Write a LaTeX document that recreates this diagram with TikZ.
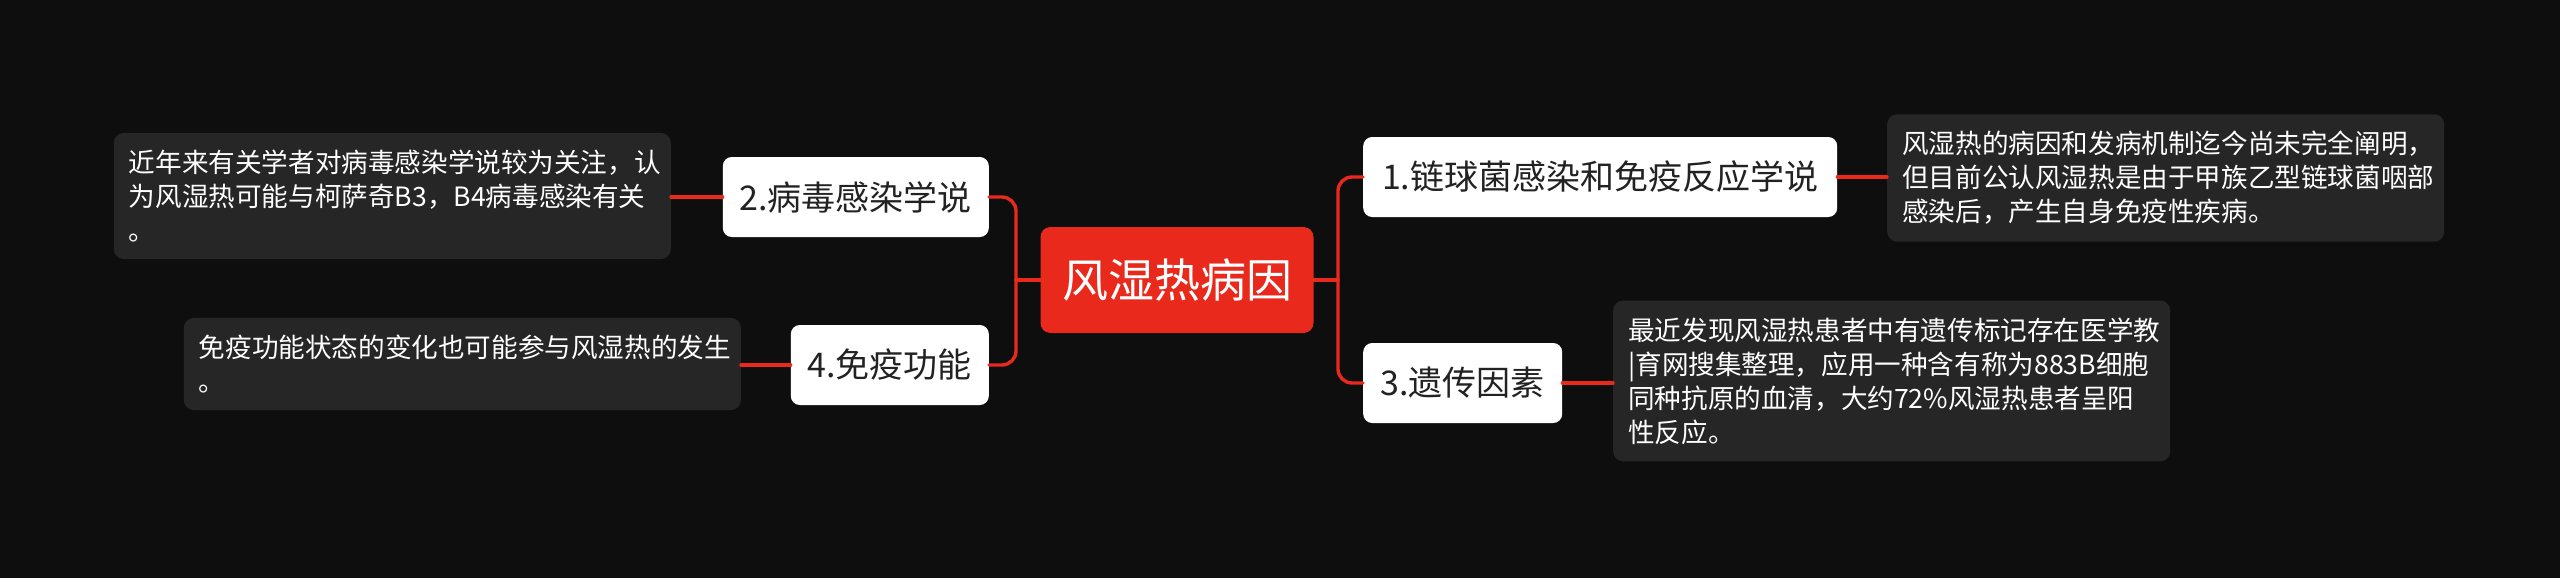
\documentclass[tikz,border=0pt]{standalone}
\usepackage{fontspec}
\setmainfont{Noto Sans CJK SC}
\usetikzlibrary{positioning,calc}
\definecolor{MapBack}{HTML}{0E0E0E}
\definecolor{MapRed}{HTML}{E8291C}
\definecolor{MapNote}{HTML}{262626}
\definecolor{MapInk}{HTML}{222222}

\tikzset{
  rootbox/.style={fill=MapRed, text=white, rounded corners=10pt,
    font=\fontsize{46}{52}\selectfont, minimum width=273pt,
    minimum height=106pt, inner sep=0pt},
  topicbox/.style={fill=white, text=MapInk, rounded corners=9pt,
    font=\fontsize{34}{40}\selectfont, minimum height=80pt, inner sep=0pt},
  notebox/.style={fill=MapNote, text=white, rounded corners=10pt,
    font=\fontsize{26.6}{34}\selectfont, align=left, text width=527pt,
    inner xsep=15pt, inner ysep=17pt},
  link/.style={draw=MapRed, line width=3.4pt, rounded corners=14pt, line cap=round},
}

\begin{document}
\begin{tikzpicture}[x=1pt,y=-1pt]
  \fill[MapBack] (0,0) rectangle (2560,578);
  \useasboundingbox (0,0) rectangle (2560,578);

  \node[rootbox] (root) at (1177,280) {风湿热病因};

  % right side
  \node[topicbox,minimum width=474pt,anchor=west] (chain) at (1363,177)
    {1.链球菌感染和免疫反应学说};
  \node[topicbox,minimum width=199pt,anchor=west] (gene) at (1363,383)
    {3.遗传因素};
  \node[notebox,anchor=west] (chainnote) at (1887,178)
    {风湿热的病因和发病机制迄今尚未完全阐明，\\
     但目前公认风湿热是由于甲族乙型链球菌咽部\\
     感染后，产生自身免疫性疾病。};
  \node[notebox,anchor=west] (genenote) at (1613,381)
    {最近发现风湿热患者中有遗传标记存在医学教\\
     |育网搜集整理，应用一种含有称为883B细胞\\
     同种抗原的血清，大约72\%风湿热患者呈阳\\
     性反应。};

  % left side
  \node[topicbox,minimum width=266pt,anchor=east] (virus) at (989,197)
    {2.病毒感染学说};
  \node[topicbox,minimum width=198pt,anchor=east] (immune) at (989,365)
    {4.免疫功能};
  \node[notebox,anchor=east] (virusnote) at (671,196)
    {近年来有关学者对病毒感染学说较为关注，认\\
     为风湿热可能与柯萨奇B3，B4病毒感染有关\\
     。};
  \node[notebox,anchor=east] (immunenote) at (741,364)
    {免疫功能状态的变化也可能参与风湿热的发生\\
     。};

  \coordinate (busR) at (1338,280);
  \coordinate (busL) at (1016,280);
  \draw[link] (root.east) -- (busR);
  \draw[link] (busR) |- (chain.west);
  \draw[link] (busR) |- (gene.west);
  \draw[link] (root.west) -- (busL);
  \draw[link] (busL) |- (virus.east);
  \draw[link] (busL) |- (immune.east);
  \draw[link] (chain.east) -- (chain.east -| chainnote.west);
  \draw[link] (gene.east) -- (gene.east -| genenote.west);
  \draw[link] (virus.west) -- (virus.west -| virusnote.east);
  \draw[link] (immune.west) -- (immune.west -| immunenote.east);
\end{tikzpicture}
\end{document}
